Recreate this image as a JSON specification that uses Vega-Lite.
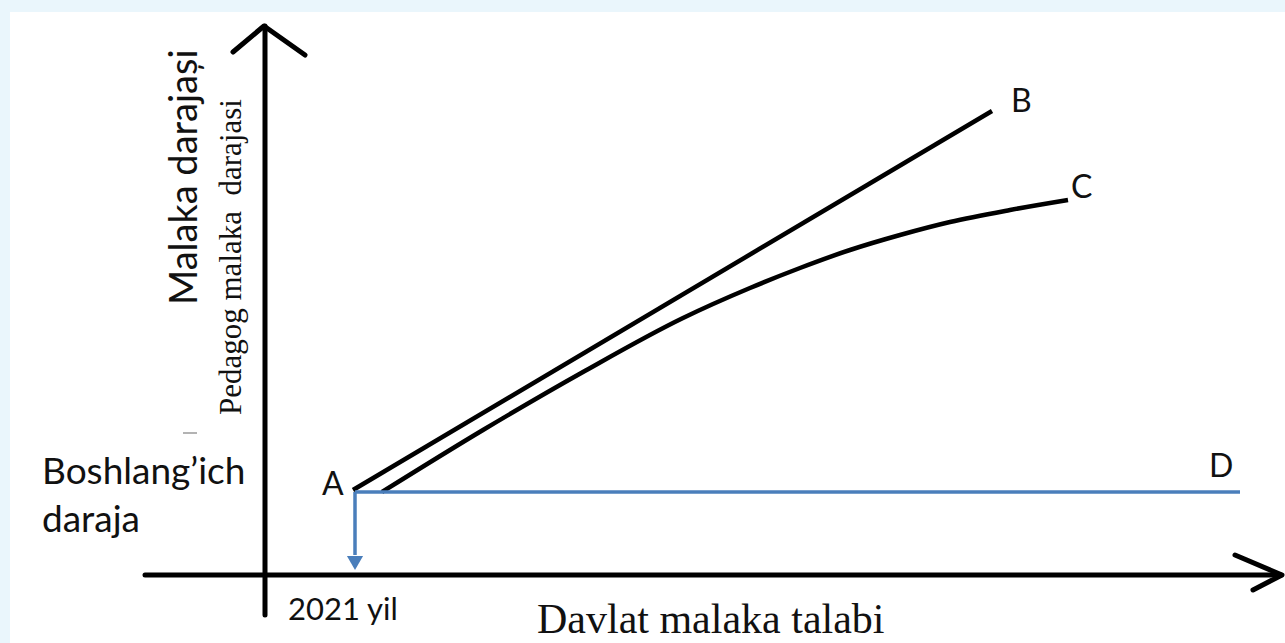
{
  "$schema": "https://vega.github.io/schema/vega-lite/v6.json",
  "width": 1285,
  "height": 643,
  "autosize": {"type": "fit", "contains": "padding"},
  "padding": 0,
  "background": "#eaf6fc",
  "config": {"view": {"stroke": null}},
  "datasets": {
    "panel": [{"x": -255, "x2": 1020, "y": -68, "y2": 563}],
    "axes": [
      {"seg": "h", "i": 0, "x": -120, "y": 0},
      {"seg": "h", "i": 1, "x": 1016, "y": 0},
      {"seg": "ha", "i": 0, "x": 970, "y": 20},
      {"seg": "ha", "i": 1, "x": 1017, "y": 0},
      {"seg": "ha", "i": 2, "x": 988, "y": -15},
      {"seg": "v", "i": 0, "x": 0, "y": -40},
      {"seg": "v", "i": 1, "x": 0, "y": 549},
      {"seg": "va", "i": 0, "x": -32, "y": 523},
      {"seg": "va", "i": 1, "x": -1, "y": 549},
      {"seg": "va", "i": 2, "x": 40, "y": 520}
    ],
    "curves": [
      {"seg": "B", "i": 0, "x": 88, "y": 85},
      {"seg": "B", "i": 1, "x": 727, "y": 464},
      {"seg": "C", "i": 0, "x": 117, "y": 83},
      {"seg": "C", "i": 1, "x": 218, "y": 145},
      {"seg": "C", "i": 2, "x": 318, "y": 203},
      {"seg": "C", "i": 3, "x": 418, "y": 257},
      {"seg": "C", "i": 4, "x": 485, "y": 287},
      {"seg": "C", "i": 5, "x": 535, "y": 307},
      {"seg": "C", "i": 6, "x": 585, "y": 325},
      {"seg": "C", "i": 7, "x": 635, "y": 340},
      {"seg": "C", "i": 8, "x": 685, "y": 353},
      {"seg": "C", "i": 9, "x": 745, "y": 365},
      {"seg": "C", "i": 10, "x": 803, "y": 375}
    ],
    "blue": [
      {"seg": "D", "i": 0, "x": 90, "y": 83},
      {"seg": "D", "i": 1, "x": 975, "y": 83},
      {"seg": "down", "i": 0, "x": 90, "y": 83},
      {"seg": "down", "i": 1, "x": 90, "y": 20}
    ],
    "tip": [{"x": 90, "y": 12}],
    "dash": [
      {"seg": "dash", "i": 0, "x": -82, "y": 142},
      {"seg": "dash", "i": 1, "x": -68, "y": 142}
    ],
    "labels": [
      {"group": "big", "label": "Boshlang’ich", "x": -223, "y": 91},
      {"group": "big", "label": "daraja", "x": -223, "y": 43},
      {"group": "letter", "label": "A", "x": 57, "y": 80},
      {"group": "letter", "label": "B", "x": 746, "y": 463},
      {"group": "letter", "label": "C", "x": 806, "y": 377},
      {"group": "letter", "label": "D", "x": 944, "y": 98},
      {"group": "year", "label": "2021 yil", "x": 23, "y": -45},
      {"group": "xtitle", "label": "Davlat malaka talabi", "x": 272, "y": -58},
      {"group": "ytitle", "label": "Malaka darajași", "x": -68, "y": 270},
      {"group": "ytitle2", "label": "Pedagog malaka\u00a0 darajasi", "x": -24, "y": 160}
    ]
  },
  "encoding": {
    "x": {"field": "x", "type": "quantitative", "axis": null, "scale": {"domain": [-265, 1020], "nice": false, "zero": false}},
    "y": {"field": "y", "type": "quantitative", "axis": null, "scale": {"domain": [-68, 575], "nice": false, "zero": false}}
  },
  "layer": [
    {
      "data": {"name": "panel"},
      "mark": {"type": "rect", "color": "#ffffff"},
      "encoding": {"x2": {"field": "x2"}, "y2": {"field": "y2"}}
    },
    {
      "data": {"name": "dash"},
      "mark": {"type": "line", "color": "#9a9a9a", "strokeWidth": 1.5},
      "encoding": {"detail": {"field": "seg"}, "order": {"field": "i"}}
    },
    {
      "data": {"name": "axes"},
      "mark": {"type": "line", "color": "#000000", "strokeWidth": 5, "strokeCap": "round", "strokeJoin": "round"},
      "encoding": {"detail": {"field": "seg"}, "order": {"field": "i"}}
    },
    {
      "data": {"name": "curves"},
      "mark": {"type": "line", "color": "#000000", "strokeWidth": 4.5, "interpolate": "monotone"},
      "encoding": {"detail": {"field": "seg"}, "order": {"field": "i"}}
    },
    {
      "data": {"name": "blue"},
      "mark": {"type": "line", "color": "#4a7ebb", "strokeWidth": 3.5},
      "encoding": {"detail": {"field": "seg"}, "order": {"field": "i"}}
    },
    {
      "data": {"name": "tip"},
      "mark": {"type": "point", "shape": "triangle-down", "filled": true, "size": 260, "color": "#4a7ebb", "opacity": 1}
    },
    {
      "data": {"name": "labels"},
      "transform": [{"filter": "datum.group === 'big'"}],
      "mark": {"type": "text", "font": "Lato", "fontSize": 37, "align": "left", "baseline": "alphabetic", "color": "#111111"},
      "encoding": {"text": {"field": "label"}}
    },
    {
      "data": {"name": "labels"},
      "transform": [{"filter": "datum.group === 'letter'"}],
      "mark": {"type": "text", "font": "Lato", "fontSize": 32, "align": "left", "baseline": "alphabetic", "color": "#111111"},
      "encoding": {"text": {"field": "label"}}
    },
    {
      "data": {"name": "labels"},
      "transform": [{"filter": "datum.group === 'year'"}],
      "mark": {"type": "text", "font": "Lato", "fontSize": 31, "align": "left", "baseline": "alphabetic", "color": "#111111"},
      "encoding": {"text": {"field": "label"}}
    },
    {
      "data": {"name": "labels"},
      "transform": [{"filter": "datum.group === 'xtitle'"}],
      "mark": {"type": "text", "font": "Liberation Serif", "fontSize": 42, "align": "left", "baseline": "alphabetic", "color": "#111111"},
      "encoding": {"text": {"field": "label"}}
    },
    {
      "data": {"name": "labels"},
      "transform": [{"filter": "datum.group === 'ytitle'"}],
      "mark": {"type": "text", "font": "Lato", "fontSize": 38, "angle": 270, "align": "left", "baseline": "alphabetic", "color": "#111111"},
      "encoding": {"text": {"field": "label"}}
    },
    {
      "data": {"name": "labels"},
      "transform": [{"filter": "datum.group === 'ytitle2'"}],
      "mark": {"type": "text", "font": "Liberation Serif", "fontSize": 31, "angle": 270, "align": "left", "baseline": "alphabetic", "color": "#111111"},
      "encoding": {"text": {"field": "label"}}
    }
  ]
}
